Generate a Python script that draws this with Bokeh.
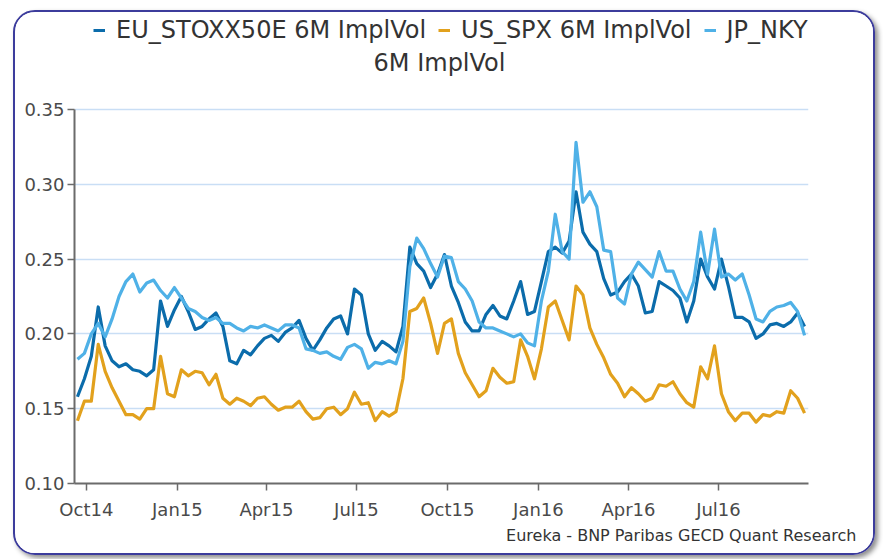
import pandas as pd
from bokeh.plotting import figure
from bokeh.models import (Legend, LegendItem, Label, Title, MonthsTicker, FixedTicker,
                          DatetimeTickFormatter, NumeralTickFormatter, Range1d)
from bokeh.embed import file_html
from bokeh.resources import INLINE

# ---- data (weekly samples) ----
start_date = "2014-09-22"
n_points = 106
dates = pd.date_range(start_date, periods=n_points, freq="7D")

eu_stoxx50e = [
    0.158, 0.170, 0.185, 0.218, 0.192, 0.182, 0.178, 0.180, 0.176, 0.175,
    0.172, 0.176, 0.222, 0.205, 0.216, 0.225, 0.215, 0.203, 0.205, 0.210,
    0.214, 0.205, 0.182, 0.180, 0.189, 0.186, 0.192, 0.197, 0.199, 0.195,
    0.201, 0.204, 0.209, 0.197, 0.189, 0.196, 0.204, 0.210, 0.212, 0.200,
    0.230, 0.226, 0.200, 0.189, 0.195, 0.192, 0.188, 0.205, 0.258, 0.247,
    0.242, 0.231, 0.240, 0.253, 0.232, 0.221, 0.208, 0.202, 0.202, 0.213,
    0.219, 0.212, 0.210, 0.222, 0.235, 0.213, 0.215, 0.235, 0.255, 0.258,
    0.254, 0.262, 0.295, 0.268, 0.260, 0.255, 0.237, 0.226, 0.228, 0.235,
    0.240, 0.232, 0.214, 0.215, 0.235, 0.232, 0.229, 0.224, 0.208, 0.222,
    0.250, 0.238, 0.230, 0.250, 0.232, 0.211, 0.211, 0.208, 0.197, 0.200,
    0.206, 0.207, 0.205, 0.208, 0.214, 0.205,
]
us_spx = [
    0.142, 0.155, 0.155, 0.193, 0.175, 0.164, 0.155, 0.146, 0.146, 0.143,
    0.150, 0.150, 0.185, 0.160, 0.158, 0.176, 0.172, 0.175, 0.174, 0.166,
    0.173, 0.157, 0.153, 0.157, 0.155, 0.152, 0.157, 0.158, 0.153, 0.149,
    0.151, 0.151, 0.155, 0.148, 0.143, 0.144, 0.150, 0.151, 0.146, 0.150,
    0.161, 0.153, 0.154, 0.142, 0.148, 0.145, 0.148, 0.170, 0.215, 0.217,
    0.224, 0.207, 0.187, 0.207, 0.210, 0.187, 0.174, 0.166, 0.158, 0.162,
    0.177, 0.171, 0.167, 0.168, 0.196, 0.185, 0.170, 0.190, 0.218, 0.222,
    0.209, 0.196, 0.232, 0.226, 0.204, 0.193, 0.184, 0.173, 0.167, 0.158,
    0.164, 0.160, 0.155, 0.157, 0.166, 0.165, 0.168, 0.160, 0.154, 0.151,
    0.178, 0.170, 0.192, 0.160, 0.148, 0.142, 0.147, 0.147, 0.141, 0.146,
    0.145, 0.148, 0.147, 0.162, 0.157, 0.147,
]
jp_nky = [
    0.183, 0.187, 0.200, 0.207, 0.198, 0.210, 0.225, 0.235, 0.240, 0.228,
    0.234, 0.236, 0.229, 0.224, 0.231, 0.224, 0.217, 0.215, 0.211, 0.209,
    0.211, 0.207, 0.207, 0.204, 0.202, 0.205, 0.204, 0.206, 0.204, 0.202,
    0.206, 0.206, 0.204, 0.190, 0.189, 0.187, 0.188, 0.185, 0.183, 0.191,
    0.193, 0.190, 0.177, 0.181, 0.180, 0.182, 0.180, 0.195, 0.245, 0.264,
    0.257, 0.247, 0.238, 0.252, 0.251, 0.235, 0.230, 0.222, 0.208, 0.204,
    0.204, 0.202, 0.200, 0.198, 0.200, 0.194, 0.192, 0.222, 0.242, 0.280,
    0.255, 0.250, 0.328, 0.288, 0.295, 0.285, 0.256, 0.255, 0.224, 0.220,
    0.240, 0.248, 0.243, 0.238, 0.255, 0.242, 0.242, 0.230, 0.222, 0.235,
    0.268, 0.240, 0.270, 0.238, 0.240, 0.236, 0.240, 0.226, 0.210, 0.208,
    0.215, 0.218, 0.219, 0.221, 0.215, 0.199,
]

series_labels = ["EU_STOXX50E 6M ImplVol", "US_SPX 6M ImplVol", "JP_NKY"]
legend_wrap = "6M ImplVol"
y_ticks = [0.10, 0.15, 0.20, 0.25, 0.30, 0.35]
y_min, y_max = 0.10, 0.35
x_start, x_end = "2014-09-19", "2016-09-30"
credit = "Eureka - BNP Paribas GECD Quant Research"

colors = ["#0b6cab", "#e2a11d", "#4fb1e7"]
FONT = "DejaVu Sans"
TXT = "#333333"

# the frame reaches up to the top of the box so that the legend can live inside it;
# the axis itself is bounded to the data range
FRAME_H = 471
top_value = y_min + (y_max - y_min) * FRAME_H / 374.0

p = figure(frame_width=734, frame_height=FRAME_H, x_axis_type="datetime",
           x_range=Range1d(pd.Timestamp(x_start), pd.Timestamp(x_end)),
           y_range=Range1d(y_min, top_value),
           output_backend="svg", toolbar_location=None,
           min_border_left=59, min_border_right=65,
           min_border_top=0, min_border_bottom=70)
p.styles = {"border": "2px solid #3c3c9c", "border-radius": "22px",
            "box-sizing": "content-box",
            "box-shadow": "3px 3px 5px rgba(0,0,0,0.45)", "overflow": "hidden",
            "position": "relative", "left": "13px", "top": "10px"}
p.outline_line_color = None
p.background_fill_color = "white"
p.border_fill_color = "white"

renderers = []
for vals, col in zip([eu_stoxx50e, us_spx, jp_nky], colors):
    r = p.line(dates, vals, line_color=col, line_width=3.2, line_join="round")
    renderers.append(r)

# axes
p.xgrid.visible = False
p.ygrid.grid_line_color = "#c9def5"
p.ygrid.grid_line_width = 1.5
p.ygrid.ticker = FixedTicker(ticks=y_ticks)
p.yaxis.ticker = FixedTicker(ticks=y_ticks)
p.yaxis.bounds = (y_min, y_max)
p.yaxis.formatter = NumeralTickFormatter(format="0.00")
p.xaxis.ticker = MonthsTicker(months=[0, 3, 6, 9])
p.xaxis.formatter = DatetimeTickFormatter(months="%b%y", days="%b%y", years="%b%y")
for ax in (p.xaxis[0], p.yaxis[0]):
    ax.axis_line_color = "#6b6b6b"
    ax.axis_line_width = 2
    ax.major_tick_line_color = "#6b6b6b"
    ax.major_tick_line_width = 1.5
    ax.major_tick_out = 7
    ax.major_tick_in = 0
    ax.minor_tick_out = 0
    ax.minor_tick_in = 0
    ax.major_label_text_font = FONT
    ax.major_label_text_font_size = "18px"
    ax.major_label_text_color = "#4a4a4a"
p.xaxis.major_label_standoff = 8
p.xaxis.axis_label_standoff = 0
p.yaxis.major_label_standoff = 3

# legend placed above the data area (screen offsets from frame bottom-left)
legend = Legend(items=[LegendItem(label=l, renderers=[r]) for l, r in zip(series_labels, renderers)],
                orientation="horizontal", location=(19, 439),
                label_text_font=FONT, label_text_font_size="24px", label_text_color=TXT,
                glyph_width=12, glyph_height=20, label_standoff=11, spacing=12,
                padding=0, margin=0, border_line_color=None, background_fill_alpha=0)
p.add_layout(legend)

wrap = Label(x=365, y=421, x_units="screen", y_units="screen", text=legend_wrap,
             text_align="center", text_baseline="middle", text_font=FONT,
             text_font_size="24px", text_color=TXT)
p.add_layout(wrap)

cred = Title(text=credit, align="right", vertical_align="top", text_font=FONT,
             text_font_size="16px", text_font_style="normal", text_color=TXT,
             offset=-48, standoff=6)
p.add_layout(cred, "below")

open("out.html", "w").write(file_html(p, INLINE))
